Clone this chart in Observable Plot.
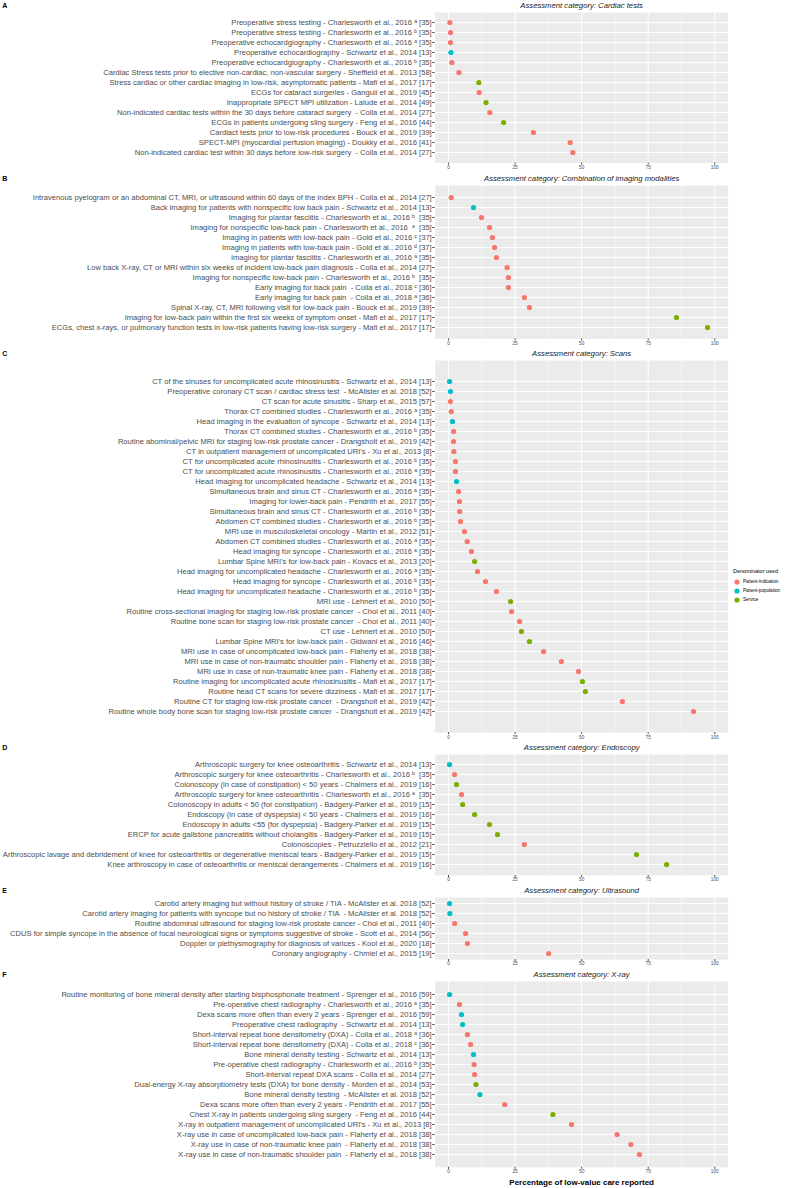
<!DOCTYPE html>
<html><head><meta charset="utf-8">
<script src="https://cdn.jsdelivr.net/npm/d3@7"></script>
<script src="https://cdn.jsdelivr.net/npm/@observablehq/plot@0.6"></script>
<style>
body{margin:0;background:#fff;font-family:"Liberation Sans",Arial,sans-serif;}
#wrap{position:relative;width:787px;height:1188px;overflow:hidden}
#wrap svg{display:block}
#legend{position:absolute;left:733px;top:567px;font-size:5.5px;color:#000;line-height:9px}
#legend .it{display:flex;align-items:center;gap:2px}
</style></head><body><div id="wrap"><div id="legend"></div></div>
<script>
// ---------- data ----------
const denomNames = ["Patient-indication", "Patient-population", "Service"];
const denomColors = ["#F8766D", "#00BFC4", "#7CAE00"];
const xTicks = [0, 25, 50, 75, 100];
const xMinorTicks = [12.5, 37.5, 62.5, 87.5];
const letters = ["A", "B", "C", "D", "E", "F"];
const titles = [
  "Assessment category: Cardiac tests",
  "Assessment category: Combination of imaging modalities",
  "Assessment category: Scans",
  "Assessment category: Endoscopy",
  "Assessment category: Ultrasound",
  "Assessment category: X-ray"
];

const labelsA = [
  "Preoperative stress testing - Charlesworth et al., 2016 ᵃ [35]",
  "Preoperative stress testing - Charlesworth et al., 2016 ᵇ [35]",
  "Preoperative echocardgiography - Charlesworth et al., 2016 ᵃ [35]",
  "Preoperative echocardiography - Schwartz et al., 2014 [13]",
  "Preoperative echocardgiography - Charlesworth et al., 2016 ᵇ [35]",
  "Cardiac Stress tests prior to elective non-cardiac, non-vascular surgery - Sheffield et al., 2013 [58]",
  "Stress cardiac or other cardiac imaging in low-risk, asymptomatic patients - Mafi et al., 2017 [17]",
  "ECGs for cataract surgeries - Ganguli et al., 2019 [45]",
  "Inappropriate SPECT MPI utilization - Lalude et al., 2014 [49]",
  "Non-indicated cardiac tests within the 30 days before cataract surgery  - Colla et al., 2014 [27]",
  "ECGs in patients undergoing sling surgery - Feng et al., 2016 [44]",
  "Cardiact tests prior to low-risk procedures - Bouck et al., 2019 [39]",
  "SPECT-MPI (myocardial perfusion imaging) - Doukky et al., 2016 [41]",
  "Non-indicated cardiac test within 30 days before low-risk surgery  - Colla et al., 2014 [27]"
];
const valuesA = [0.5, 0.75, 0.75, 0.9, 1.25, 3.9, 11.4, 11.5, 14.1, 15.5, 20.7, 31.9, 45.7, 46.7];
const denomA = [0, 0, 0, 1, 0, 0, 2, 0, 2, 0, 2, 0, 0, 0];

const labelsB = [
  "Intravenous pyelogram or an abdominal CT, MRI, or ultrasound within 60 days of the index BPH - Colla et al., 2014 [27]",
  "Back imaging for patients with nonspecific low back pain - Schwartz et al., 2014 [13]",
  "Imaging for plantar fasciitis - Charlesworth et al., 2016 ᵇ  [35]",
  "Imaging for nonspecific low-back pain - Charlesworth et al., 2016  ᵃ  [35]",
  "Imaging in patients with low-back pain - Gold et al., 2016 ᶜ [37]",
  "Imaging in patients with low-back pain - Gold et al., 2016 ᵈ [37]",
  "Imaging for plantar fasciitis - Charlesworth et al., 2016 ᵃ [35]",
  "Low back X-ray, CT or MRI within six weeks of incident low-back pain diagnosis - Colla et al., 2014 [27]",
  "Imaging for nonspecific low-back pain - Charlesworth et al., 2016 ᵇ  [35]",
  "Early imaging for back pain  - Colla et al., 2018 ᶜ [36]",
  "Early imaging for back pain  - Colla et al., 2018 ᵃ [36]",
  "Spinal X-ray, CT, MRI following visit for low-back pain - Bouck et al., 2019 [39]",
  "Imaging for low-back pain within the first six weeks of symptom onset - Mafi et al., 2017 [17]",
  "ECGs, chest x-rays, or pulmonary function tests in low-risk patients having low-risk surgery - Mafi et al., 2017 [17]"
];
const valuesB = [1, 9.4, 12.4, 15.4, 16.5, 17.3, 18, 22, 22.5, 22.5, 28.5, 30.4, 85.6, 97.3];
const denomB = [0, 1, 0, 0, 0, 0, 0, 0, 0, 0, 0, 0, 2, 2];

const labelsC = [
  "CT of the sinuses for uncomplicated acute rhinosinusitis - Schwartz et al., 2014 [13]",
  "Preoperative coronary CT scan / cardiac stress test  - McAlister et al. 2018 [52]",
  "CT scan for acute sinusitis - Sharp et al., 2015 [57]",
  "Thorax CT combined studies - Charlesworth et al., 2016 ᵃ [35]",
  "Head imaging in the evaluation of syncope - Schwartz et al., 2014 [13]",
  "Thorax CT combined studies - Charlesworth et al., 2016 ᵇ [35]",
  "Routine abominal/pelvic MRI for staging low-risk prostate cancer - Drangsholt et al., 2019 [42]",
  "CT in outpatient management of uncomplicated URI's - Xu et al., 2013 [8]",
  "CT for uncomplicated acute rhinosinusitis - Charlesworth et al., 2016 ᵇ [35]",
  "CT for uncomplicated acute rhinosinusitis - Charlesworth et al., 2016 ᵃ [35]",
  "Head imaging for uncomplicated headache - Schwartz et al., 2014 [13]",
  "Simultaneous brain and sinus CT - Charlesworth et al., 2016 ᵃ [35]",
  "Imaging for lower-back pain - Pendrith et al., 2017 [55]",
  "Simultaneous brain and sinus CT - Charlesworth et al., 2016 ᵇ [35]",
  "Abdomen CT combined studies - Charlesworth et al., 2016 ᵇ [35]",
  "MRI use in musculoskeletal oncology - Martin et al., 2012 [51]",
  "Abdomen CT combined studies - Charlesworth et al., 2016 ᵃ [35]",
  "Head imaging for syncope - Charlesworth et al., 2016 ᵃ [35]",
  "Lumbar Spine MRI's for low-back pain - Kovacs et al., 2013 [20]",
  "Head imaging for uncomplicated headache - Charlesworth et al., 2016 ᵃ [35]",
  "Head imaging for syncope - Charlesworth et al., 2016 ᵇ [35]",
  "Head imaging for uncomplicated headache - Charlesworth et al., 2016 ᵇ [35]",
  "MRI use - Lehnert et al., 2010 [50]",
  "Routine cross-sectional imaging for staging low-risk prostate cancer  - Choi et al., 2011 [40]",
  "Routine bone scan for staging low-risk prostate cancer  - Choi et al., 2011 [40]",
  "CT use - Lehnert et al., 2010 [50]",
  "Lumbar Spine MRI's for low-back pain - Gidwani et al., 2016 [46]",
  "MRI use in case of uncomplicated low-back pain - Flaherty et al., 2018 [38]",
  "MRI use in case of non-traumatic shoulder pain - Flaherty et al., 2018 [38]",
  "MRI use in case of non-traumatic knee pain - Flaherty et al., 2018 [38]",
  "Routine imaging for uncomplicated acute rhinosinusitis - Mafi et al., 2017 [17]",
  "Routine head CT scans for severe dizziness - Mafi et al., 2017 [17]",
  "Routine CT for staging low-risk prostate cancer  - Drangsholt et al., 2019 [42]",
  "Routine whole body bone scan for staging low-risk prostate cancer  - Drangsholt et al., 2019 [42]"
];
const valuesC = [0.4, 0.7, 0.7, 1, 1.5, 1.9, 1.9, 2, 2.6, 2.6, 3, 3.8, 4.1, 4.2, 4.5, 6, 7, 8.6, 9.8, 10.9, 13.9, 18,
  23.3, 23.7, 26.7, 27.4, 30.4, 35.7, 42.4, 48.8, 50.3, 51.4, 65.3, 92];
const denomC = [1, 1, 0, 0, 1, 0, 0, 0, 0, 0, 1, 0, 0, 0, 0, 0, 0, 0, 2, 0, 0, 0, 2, 0, 0, 2, 2, 0, 0, 0, 2, 2, 0, 0];

const labelsD = [
  "Arthroscopic surgery for knee osteoarthritis - Schwartz et al., 2014 [13]",
  "Arthroscopic surgery for knee osteoarthritis - Charlesworth et al., 2016 ᵇ  [35]",
  "Colonoscopy (in case of constipation) < 50 years - Chalmers et al., 2019 [16]",
  "Arthroscopic surgery for knee osteoarthritis - Charlesworth et al., 2016 ᵃ  [35]",
  "Colonoscopy in adults < 50 (for constipation) - Badgery-Parker et al., 2019 [15]",
  "Endoscopy (in case of dyspepsia) < 50 years - Chalmers et al., 2019 [16]",
  "Endoscopy in adults <55 (for dyspepsia) - Badgery-Parker et al., 2019 [15]",
  "ERCP for acute gallstone pancreatitis without cholangitis - Badgery-Parker et al., 2019 [15]",
  "Colonoscopies - Petruzziello et al., 2012 [21]",
  "Arthroscopic lavage and debridement of knee for osteoarthritis or degenerative meniscal tears - Badgery-Parker et al., 2019 [15]",
  "Knee arthroscopy in case of osteoarthritis or meniscal derangements - Chalmers et al., 2019 [16]"
];
const valuesD = [0.4, 2.3, 3, 4.9, 5.3, 9.8, 15.4, 18.4, 28.5, 70.6, 81.9];
const denomD = [1, 0, 2, 0, 2, 2, 2, 2, 0, 2, 2];

const labelsE = [
  "Carotid artery imaging but without history of stroke / TIA - McAlister et al. 2018 [52]",
  "Carotid artery imaging for patients with syncope but no history of stroke / TIA  - McAlister et al. 2018 [52]",
  "Routine abdominal ultrasound for staging low-risk prostate cancer - Choi et al., 2011 [40]",
  "CDUS for simple syncope in the absence of focal neurological signs or symptoms suggestive of stroke - Scott et al., 2014 [56]",
  "Doppler or plethysmography for diagnosis of varices - Kool et al., 2020 [18]",
  "Coronary angiography - Chmiel et al., 2015 [19]"
];
const valuesE = [0.4, 0.5, 2.3, 6.4, 7.1, 37.6];
const denomE = [1, 1, 0, 0, 0, 0];

const labelsF = [
  "Routine monitoring of bone mineral density after starting bisphosphonate treatment - Sprenger et al., 2016 [59]",
  "Pre-operative chest radiography - Charlesworth et al., 2016 ᵃ [35]",
  "Dexa scans more often than every 2 years - Sprenger et al., 2016 [59]",
  "Preoperative chest radiography  - Schwartz et al., 2014 [13]",
  "Short-interval repeat bone densitometry (DXA) - Colla et al., 2018 ᵃ [36]",
  "Short-interval repeat bone densitometry (DXA) - Colla et al., 2018 ᶜ [36]",
  "Bone mineral density testing - Schwartz et al., 2014 [13]",
  "Pre-operative chest radiography - Charlesworth et al., 2016 ᵇ [35]",
  "Short-interval repeat DXA scans - Colla et al., 2014 [27]",
  "Dual-energy X-ray absorptiometry tests (DXA) for bone density - Morden et al., 2014 [53]",
  "Bone mineral density testing  - McAlister et al. 2018 [52]",
  "Dexa scans more often than every 2 years - Pendrith et al., 2017 [55]",
  "Chest X-ray in patients undergoing sling surgery  - Feng et al., 2016 [44]",
  "X-ray in outpatient management of uncomplicated URI's - Xu et al., 2013 [8]",
  "X-ray use in case of uncomplicated low-back pain - Flaherty et al., 2018 [38]",
  "X-ray use in case of non-traumatic knee pain  - Flaherty et al., 2018 [38]",
  "X-ray use in case of non-traumatic shoulder pain  - Flaherty et al., 2018 [38]"
];
const valuesF = [0.4, 4.1, 4.9, 5.3, 7.1, 8.3, 9.4, 9.6, 9.8, 10.3, 11.8, 21.1, 39.2, 46.2, 63.3, 68.5, 71.7];
const denomF = [1, 0, 1, 1, 0, 0, 1, 0, 0, 2, 1, 0, 2, 0, 0, 0, 0];

const xTitle = "Percentage of low-value care reported";
const legendTitle = "Denominator used";

// ---------- layout ----------
const panelLabels = [labelsA, labelsB, labelsC, labelsD, labelsE, labelsF];
const panelValues = [valuesA, valuesB, valuesC, valuesD, valuesE, valuesF];
const panelDenoms = [denomA, denomB, denomC, denomD, denomE, denomF];
const rowStep = [10.6, 10.8, 10.88, 10.8, 10.0, 10.8];

const FONT = "Liberation Sans, Arial, Helvetica, sans-serif";
const wrap = document.getElementById("wrap");

panelLabels.forEach((labels, i) => {
  const data = labels.map((l, j) => ({label: l, value: panelValues[i][j], denom: denomNames[panelDenoms[i][j]]}));
  const last = i === panelLabels.length - 1;
  const mt = 12, mb = last ? 21 : 10;
  const height = mt + mb + (labels.length + 0.2) * rowStep[i];
  const marks = [
    Plot.frame({fill: "#EBEBEB", stroke: null}),
    Plot.gridX(xMinorTicks, {stroke: "#fff", strokeOpacity: 1, strokeWidth: 0.5}),
    Plot.gridX(xTicks, {stroke: "#fff", strokeOpacity: 1, strokeWidth: 1}),
    Plot.gridY(labels, {stroke: "#fff", strokeOpacity: 1, strokeWidth: 1}),
    Plot.axisY({tickSize: 2.5, tickPadding: 1, fontSize: 7.6, color: "#4D4D4D", label: null}),
    Plot.axisX(xTicks, {tickSize: 2, tickPadding: 0.5, fontSize: 4.8, color: "#4D4D4D", label: null, tickFormat: d => d}),
    Plot.dot(data, {x: "value", y: "label", fill: "denom", r: 2.6}),
    Plot.text([titles[i]], {frameAnchor: "top", dy: -7, fontStyle: "italic", fontSize: 7.7, fill: "#1a1a1a", lineAnchor: "middle"}),
    Plot.text([letters[i]], {frameAnchor: "top-left", dx: -433, dy: -7, fontWeight: "bold", fontSize: 7, fill: "#000", textAnchor: "start", lineAnchor: "middle"})
  ];
  if (last) marks.push(Plot.text([xTitle], {frameAnchor: "bottom", dy: 15, fontWeight: "bold", fontSize: 8, fill: "#000", lineAnchor: "middle"}));
  const chart = Plot.plot({
    width: 787, height,
    marginLeft: 434.7, marginRight: 59.4, marginTop: mt, marginBottom: mb,
    style: {fontFamily: FONT, background: "transparent", overflow: "visible"},
    x: {domain: [-5, 105]},
    y: {domain: labels, padding: 0.6},
    color: {domain: denomNames, range: denomColors},
    marks
  });
  wrap.appendChild(chart);
});

// legend
const lg = document.getElementById("legend");
const t = document.createElement("div");
t.textContent = legendTitle;
t.style.marginBottom = "1px";
lg.appendChild(t);
denomNames.forEach((n, k) => {
  const d = document.createElement("div");
  d.className = "it";
  d.innerHTML = `<svg width="8" height="8"><circle cx="4" cy="4" r="2.6" fill="${denomColors[k]}"/></svg><span style="font-size:4.6px">${n}</span>`;
  lg.appendChild(d);
});
</script>
</body></html>
